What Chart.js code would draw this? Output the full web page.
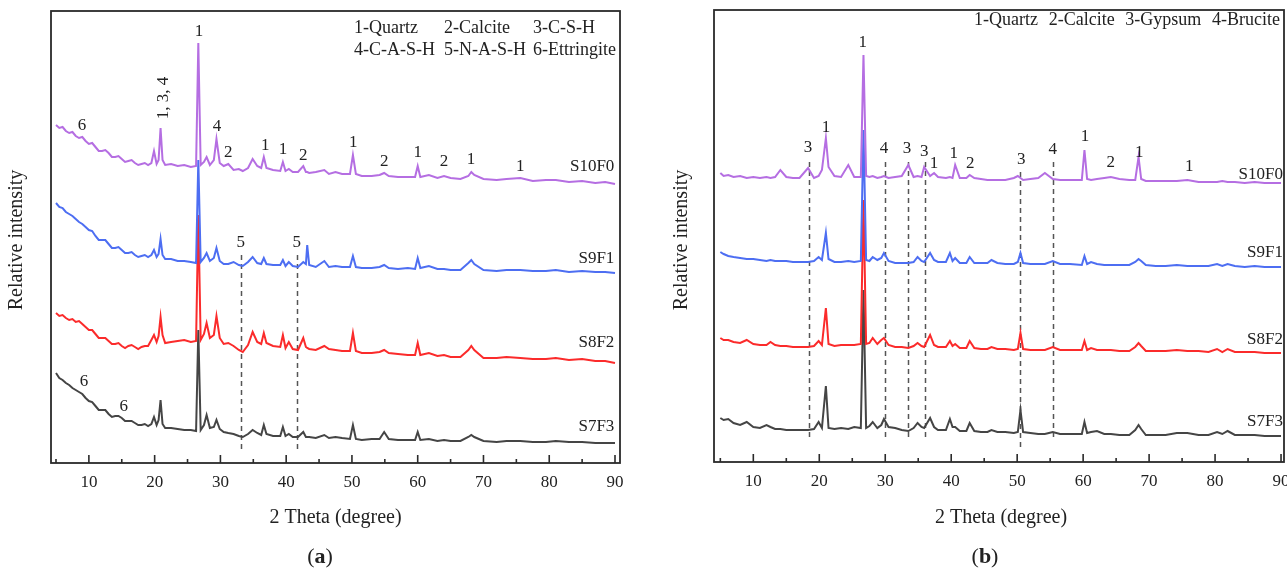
<!DOCTYPE html>
<html>
<head>
<meta charset="utf-8">
<script src="https://cdn.jsdelivr.net/npm/chart.js@4/dist/chart.umd.min.js"></script>
<style>
html,body{margin:0;padding:0;background:#fff;}
#wrap{position:relative;width:1287px;height:570px;overflow:hidden;background:#fff;}
canvas{position:absolute;top:0;}
</style>
</head>
<body>
<div id="wrap">
<canvas id="ca" width="660" height="570" style="left:0;width:660px;height:570px"></canvas>
<canvas id="cb" width="627" height="570" style="left:660px;width:627px;height:570px"></canvas>
</div>
<script>
// ---------- Data: [2θ (degree), relative intensity (a.u., offset stacked)] ----------
// Panel (a)
const S10F0_a = [[5,338],[5.5,335],[6,336],[6.5,332],[7,330],[7.5,331],[8,327],[8.5,325],[9,326],[9.5,322],[10,319],[10.5,320],[11,316],[11.5,312],[12,312],[12.5,313],[13,310],[13.5,306],[14,306],[14.5,307],[15,304],[15.5,301],[16,302],[16.5,303],[17,300],[17.5,298],[18,299],[18.5,300],[19,298],[19.5,300],[19.9,312],[20.3,299],[20.6,303],[20.9,335],[21.2,303],[21.6,298],[22.5,299],[23.5,297],[24.5,298],[25.5,296],[26.3,297],[26.64,420],[27.0,298],[27.5,301],[27.9,306],[28.4,298],[29.0,303],[29.4,324],[29.9,300],[30.5,297],[31.2,299],[32,293],[32.8,294],[33.4,292],[34.2,295],[34.9,304],[35.6,297],[36.2,295],[36.6,306],[37.0,295],[38.0,293],[39.1,292],[39.5,301],[39.9,292],[40.4,294],[41.0,291],[41.8,291],[42.6,297],[43.0,291],[43.2,291],[43.5,290],[44.5,291],[45.8,293],[46.5,289],[47.5,291],[48.5,289],[49.7,289],[50.15,308],[50.6,289],[51.5,287],[53,287],[54.2,288],[54.9,290],[55.6,287],[57,286],[58.5,286],[59.6,286],[60.0,297],[60.4,286],[61.7,288],[63,285],[64.0,287],[65,285],[66.5,284],[67.7,287],[68.15,291],[68.6,288],[70,284],[72,283],[73.5,284],[75.6,285],[77.5,282],[79.5,283],[81,283],[83,281],[85,282],[87,280],[88.5,281],[90,279]];
const S9F1_a = [[5,260],[5.5,256],[6,255],[6.5,251],[7,249],[7.5,247],[8,244],[8.5,241],[9,239],[9.5,236],[10,233],[10.5,232],[11,227],[11.5,223],[12,223],[12.5,223],[13,219],[13.5,215],[14,215],[14.5,216],[15,213],[15.5,210],[16,210],[16.5,211],[17,208],[17.5,206],[18,207],[18.5,208],[19,206],[19.5,208],[19.9,213],[20.3,206],[20.6,209],[20.9,224],[21.2,208],[21.6,204],[22.5,204],[23.5,202],[24.5,202],[25.5,201],[26.3,200],[26.64,303],[27.0,201],[27.5,205],[27.9,210],[28.4,202],[29.0,205],[29.4,215],[29.9,202],[30.5,199],[31.2,199],[32,201],[32.8,198],[33.4,197],[34.2,201],[34.9,206],[35.6,200],[36.2,199],[36.6,205],[37.0,199],[38.0,198],[39.1,198],[39.5,203],[39.9,197],[40.4,201],[41.0,197],[41.8,196],[42.6,201],[43.0,199],[43.2,218],[43.5,198],[44.5,196],[45.8,202],[46.5,196],[47.5,197],[48.5,196],[49.7,196],[50.15,207],[50.6,196],[51.5,195],[53,195],[54.2,196],[54.9,198],[55.6,195],[57,194],[58.5,195],[59.6,194],[60.0,205],[60.4,195],[61.7,197],[63,194],[64.0,194],[65,193],[66.5,193],[67.7,200],[68.15,203],[68.6,199],[70,193],[72,192],[73.5,193],[75.6,193],[77.5,192],[79.5,192],[81,193],[83,191],[85,192],[87,191],[88.5,191],[90,190]];
const S8F2_a = [[5,150],[5.5,147],[6,148],[6.5,145],[7,143],[7.5,144],[8,141],[8.5,142],[9,139],[9.5,136],[10,133],[10.5,133],[11,129],[11.5,125],[12,125],[12.5,125],[13,122],[13.5,119],[14,119],[14.5,120],[15,117],[15.5,115],[16,117],[16.5,118],[17,116],[17.5,114],[18,116],[18.5,117],[19,117],[19.5,123],[19.9,128],[20.3,121],[20.6,127],[20.9,146],[21.2,128],[21.6,120],[22.5,121],[23.5,122],[24.5,123],[25.5,121],[26.3,122],[26.64,248],[27.0,123],[27.5,129],[27.9,140],[28.4,125],[29.0,128],[29.4,147],[29.9,125],[30.5,119],[31.2,120],[32,117],[32.8,113],[33.4,111],[34.2,118],[34.9,131],[35.6,121],[36.2,119],[36.6,130],[37.0,120],[38.0,117],[39.1,116],[39.5,128],[39.9,115],[40.4,121],[41.0,114],[41.8,113],[42.6,125],[43.0,116],[43.2,115],[43.5,114],[44.5,113],[45.8,117],[46.5,114],[47.5,113],[48.5,112],[49.7,112],[50.15,130],[50.6,112],[51.5,110],[53,110],[54.2,111],[54.9,113],[55.6,110],[57,109],[58.5,108],[59.6,108],[60.0,120],[60.4,108],[61.7,110],[63,107],[64.0,108],[65,106],[66.5,106],[67.7,113],[68.15,117],[68.6,113],[70,105],[72,105],[73.5,106],[75.6,105],[77.5,104],[79.5,104],[81,105],[83,103],[85,104],[87,102],[88.5,102],[90,100]];
const S7F3_a = [[5,90],[5.5,85],[6,83],[6.5,80],[7,78],[7.5,75],[8,73],[8.5,71],[9,69],[9.5,65],[10,62],[10.5,61],[11,57],[11.5,53],[12,53],[12.5,53],[13,49],[13.5,46],[14,47],[14.5,47],[15,45],[15.5,42],[16,42],[16.5,42],[17,40],[17.5,38],[18,38],[18.5,39],[19,37],[19.5,39],[19.9,46],[20.3,38],[20.6,43],[20.9,63],[21.2,39],[21.6,35],[22.5,35],[23.5,34],[24.5,33],[25.5,33],[26.3,32],[26.64,133],[27.0,33],[27.5,38],[27.9,48],[28.4,35],[29.0,36],[29.4,43],[29.9,34],[30.5,31],[31.2,30],[32,29],[32.8,27],[33.4,26],[34.2,29],[34.9,33],[35.6,30],[36.2,28],[36.6,38],[37.0,29],[38.0,27],[39.1,27],[39.5,36],[39.9,27],[40.4,29],[41.0,26],[41.8,26],[42.6,31],[43.0,26],[43.2,26],[43.5,26],[44.5,25],[45.8,28],[46.5,25],[47.5,26],[48.5,25],[49.7,24],[50.15,38],[50.6,24],[51.5,23],[53,24],[54.2,24],[54.9,31],[55.6,24],[57,23],[58.5,23],[59.6,23],[60.0,31],[60.4,23],[61.7,24],[63,22],[64.0,23],[65,22],[66.5,22],[67.7,26],[68.15,28],[68.6,26],[70,22],[72,21],[73.5,22],[75.6,22],[77.5,21],[79.5,21],[81,22],[83,21],[85,21],[87,20],[88.5,20],[90,20]];

// Panel (b)
const S10F0_b = [[5,289],[5.5,286],[6.2,287],[7,285],[8,286],[9,284],[10,285],[11,284],[12,285],[12.6,284],[13.3,285],[14.1,292],[15,285],[16,284],[17,284],[18.3,294],[19.2,284],[19.9,286],[20.4,292],[21.0,324],[21.4,295],[22.3,286],[23.3,285],[24.4,297],[25.3,285],[26.3,285],[26.7,407],[27.1,286],[27.6,285],[28.1,286],[28.8,284],[29.4,285],[29.8,286],[30.5,284],[31.5,285],[32.5,286],[33.5,297],[34.3,285],[34.9,286],[35.5,285],[35.9,295],[36.8,286],[37.4,289],[38.0,285],[39.2,284],[39.8,285],[40.2,284],[40.6,297],[41.3,284],[42.3,284],[42.8,287],[43.5,284],[44.5,283],[45.5,282],[46.1,282],[47,282],[48.2,282],[49.5,284],[50.1,286],[50.5,284],[50.9,282],[52,283],[53.2,284],[54.2,289],[55.4,283],[56.5,282],[58,282],[59.8,282],[60.2,312],[60.6,283],[61.2,282],[62.1,283],[63.2,284],[64.2,285],[65.5,283],[67,282],[67.9,282],[68.4,305],[68.8,283],[69.5,281],[71,281],[72.5,281],[74.2,281],[75.8,282],[77.5,280],[79,280],[80.3,280],[81.1,281],[81.9,280],[83,280],[84.5,279],[86,280],[87.5,279],[89,279],[90,279]];
const S9F1_b = [[5,210],[5.5,208],[6.2,206],[7,205],[8,204],[9,203],[10,203],[11,202],[12,201],[12.6,202],[13.3,201],[14.1,201],[15,201],[16,200],[17,200],[18.3,200],[19.2,201],[19.9,205],[20.4,202],[21.0,229],[21.4,203],[22.3,200],[23.3,200],[24.4,201],[25.3,200],[26.3,201],[26.7,332],[27.1,202],[27.6,201],[28.1,205],[28.8,202],[29.4,204],[29.8,209],[30.5,201],[31.5,199],[32.5,199],[33.5,199],[34.3,200],[34.9,205],[35.5,201],[35.9,200],[36.8,209],[37.4,202],[38.0,200],[39.2,200],[39.8,209],[40.2,201],[40.6,204],[41.3,199],[42.3,199],[42.8,205],[43.5,199],[44.5,199],[45.5,199],[46.1,202],[47,199],[48.2,198],[49.5,198],[50.1,200],[50.5,209],[50.9,199],[52,198],[53.2,198],[54.2,198],[55.4,201],[56.5,198],[58,198],[59.8,197],[60.2,206],[60.6,198],[61.2,200],[62.1,198],[63.2,197],[64.2,197],[65.5,197],[67,197],[67.9,200],[68.4,203],[68.8,201],[69.5,197],[71,196],[72.5,196],[74.2,197],[75.8,196],[77.5,196],[79,196],[80.3,198],[81.1,196],[81.9,198],[83,196],[84.5,195],[86,196],[87.5,195],[89,195],[90,195]];
const S8F2_b = [[5,124],[5.5,122],[6.2,122],[7,120],[8,119],[9,122],[10,118],[11,117],[12,117],[12.6,120],[13.3,117],[14.1,116],[15,116],[16,115],[17,115],[18.3,115],[19.2,116],[19.9,121],[20.4,117],[21.0,154],[21.4,118],[22.3,116],[23.3,117],[24.4,117],[25.3,117],[26.3,118],[26.7,262],[27.1,118],[27.6,119],[28.1,124],[28.8,118],[29.4,122],[29.8,124],[30.5,117],[31.5,115],[32.5,115],[33.5,114],[34.3,116],[34.9,119],[35.5,116],[35.9,115],[36.8,127],[37.4,117],[38.0,115],[39.2,115],[39.8,121],[40.2,116],[40.6,118],[41.3,114],[42.3,114],[42.8,121],[43.5,114],[44.5,113],[45.5,113],[46.1,115],[47,113],[48.2,113],[49.5,112],[50.1,113],[50.5,129],[50.9,113],[52,112],[53.2,112],[54.2,112],[55.4,115],[56.5,112],[58,112],[59.8,112],[60.2,121],[60.6,112],[61.2,114],[62.1,112],[63.2,112],[64.2,112],[65.5,111],[67,111],[67.9,115],[68.4,119],[68.8,116],[69.5,111],[71,111],[72.5,111],[74.2,112],[75.8,111],[77.5,111],[79,110],[80.3,113],[81.1,110],[81.9,113],[83,110],[84.5,110],[86,110],[87.5,109],[89,109],[90,109]];
const S7F3_b = [[5,44],[5.5,42],[6.2,43],[7,39],[8,37],[9,40],[10,35],[11,34],[12,37],[12.6,35],[13.3,33],[14.1,33],[15,32],[16,32],[17,32],[18.3,32],[19.2,33],[19.9,40],[20.4,34],[21.0,76],[21.4,34],[22.3,33],[23.3,34],[24.4,33],[25.3,35],[26.3,34],[26.7,172],[27.1,34],[27.6,36],[28.1,40],[28.8,34],[29.4,37],[29.8,43],[30.5,35],[31.5,34],[32.5,32],[33.5,31],[34.3,34],[34.9,39],[35.5,35],[35.9,34],[36.8,44],[37.4,35],[38.0,32],[39.2,32],[39.8,43],[40.2,35],[40.6,35],[41.3,31],[42.3,31],[42.8,39],[43.5,31],[44.5,30],[45.5,30],[46.1,32],[47,30],[48.2,30],[49.5,29],[50.1,30],[50.5,52],[50.9,30],[52,29],[53.2,28],[54.2,28],[55.4,30],[56.5,28],[58,28],[59.8,28],[60.2,40],[60.6,29],[61.2,30],[62.1,31],[63.2,28],[64.2,28],[65.5,27],[67,27],[67.9,32],[68.4,37],[68.8,33],[69.5,27],[71,27],[72.5,27],[74.2,29],[75.8,29],[77.5,27],[79,27],[80.3,30],[81.1,28],[81.9,31],[83,27],[84.5,27],[86,27],[87.5,26],[89,26],[90,26]];

// Tick labels (2θ)
const tickLabels = [10,20,30,40,50,60,70,80,90];
const sampleNames = ['S10F0','S9F1','S8F2','S7F3'];
const legendA = [['1-Quartz','2-Calcite','3-C-S-H'],['4-C-A-S-H','5-N-A-S-H','6-Ettringite']];
const legendB = ['1-Quartz','2-Calcite','3-Gypsum','4-Brucite'];

// Phase marks: [label, 2θ, intensity]
const marksA = [['6',8.95,337],['1',26.75,431],['4',29.5,336],['2',31.2,310],['1',36.8,317],['1',39.5,313],['2',42.6,307],['1',50.2,320],['2',54.9,301],['1',60.0,310],['2',64.0,301],['1',68.1,303],['1',75.6,296],['5',33.1,220],['5',41.6,220],['6',9.26,81],['6',15.3,56]];
const rotMarksA = [['1, 3, 4',21.4,365]];
const marksB = [['3',18.3,314],['1',21.0,334],['1',26.6,419],['4',29.8,313],['3',33.3,313],['3',35.9,310],['1',37.4,298],['1',40.4,308],['2',42.9,298],['3',50.6,302],['4',55.4,312],['1',60.3,325],['2',64.2,299],['1',68.5,309],['1',76.1,295]];
// Sample name label heights (intensity)
const nameYA = [296,204,120,36];
const nameYB = [287,209,122,40];
// Dashed guide lines: [2θ, top intensity, bottom intensity]
const guidesA = [[33.2,208,10],[41.6,208,10]];
const guidesB = [[18.4,300,22],[29.9,300,22],[33.5,300,22],[36.0,300,22],[50.5,290,14],[55.4,300,22]];

const COLORS = ['#b56ee2','#4d6ef2','#fb2b2b','#454545'];
const SERIF = "'Liberation Serif','Times New Roman',serif";

function makeChart(id, series, opt){
  const ctx = document.getElementById(id).getContext('2d');
  const decor = {
    id:'decor'+id,
    beforeDatasetsDraw(chart){
      const c = chart.ctx, x = chart.scales.x, y = chart.scales.y;
      c.save();
      c.strokeStyle = '#555'; c.lineWidth = 1.5; c.setLineDash([5,4]);
      opt.guides.forEach(g=>{
        const px = Math.round(x.getPixelForValue(g[0]))+0.5;
        c.beginPath(); c.moveTo(px, y.getPixelForValue(g[1])); c.lineTo(px, y.getPixelForValue(g[2])); c.stroke();
      });
      c.restore();
    },
    afterDraw(chart){
      const c = chart.ctx, x = chart.scales.x, y = chart.scales.y, a = chart.chartArea;
      c.save();
      // frame
      c.strokeStyle = '#2a2a2a'; c.lineWidth = 1.8; c.setLineDash([]);
      c.strokeRect(a.left, a.top, a.right-a.left, a.bottom-a.top);
      // inward ticks
      c.lineWidth = 1.6;
      for (let v=5; v<=90; v+=5){
        const px = x.getPixelForValue(v);
        const len = (v%10===0)?8:4;
        c.beginPath(); c.moveTo(px, a.bottom); c.lineTo(px, a.bottom-len); c.stroke();
      }
      c.fillStyle = '#222';
      c.textAlign = 'center'; c.textBaseline = 'middle';
      c.font = '17px '+SERIF;
      opt.marks.forEach(m=>{ c.fillText(m[0], x.getPixelForValue(m[1]), y.getPixelForValue(m[2])); });
      (opt.rotMarks||[]).forEach(m=>{
        c.save(); c.translate(x.getPixelForValue(m[1]), y.getPixelForValue(m[2])); c.rotate(-Math.PI/2);
        c.fillText(m[0],0,0); c.restore();
      });
      c.textAlign = 'right';
      sampleNames.forEach((n,i)=>{ c.fillText(n, x.getPixelForValue(opt.nameX), y.getPixelForValue(opt.nameY[i])); });
      // legend
      c.textAlign = 'left'; c.font = '18px '+SERIF;
      opt.drawLegend(c, a);
      // axis titles
      c.textAlign = 'center'; c.font = '20px '+SERIF;
      c.fillText('2 Theta (degree)', (a.left+a.right)/2 + opt.xTitleDx, 518);
      c.save(); c.translate(opt.yTitleX, 240); c.rotate(-Math.PI/2);
      c.fillText('Relative intensity', 0, 0); c.restore();
      // panel letter
      const cx = opt.panelX, cy = 557;
      c.font = '22px '+SERIF;
      const wp = c.measureText('(').width;
      c.font = 'bold 22px '+SERIF;
      const wl = c.measureText(opt.letter).width;
      const tot = wp*2+wl;
      c.textAlign='left';
      c.font = '22px '+SERIF; c.fillText('(', cx-tot/2, cy);
      c.font = 'bold 22px '+SERIF; c.fillText(opt.letter, cx-tot/2+wp, cy);
      c.font = '22px '+SERIF; c.fillText(')', cx-tot/2+wp+wl, cy);
      c.restore();
    }
  };
  return new Chart(ctx, {
    type:'line',
    data:{ datasets: series.map((s,i)=>({ label:sampleNames[i], data:s.map(p=>({x:p[0],y:p[1]})), borderColor:COLORS[i], backgroundColor:COLORS[i], borderWidth:2, pointRadius:0, tension:0, fill:false })) },
    options:{
      responsive:false, animation:false, devicePixelRatio:1,
      layout:{ padding:{ left:opt.padL, right:opt.padR, top:opt.padT, bottom:opt.padB } },
      plugins:{ legend:{display:false}, tooltip:{enabled:false} },
      scales:{
        x:{ type:'linear', min:opt.xmin, max:opt.xmax, border:{display:false},
            grid:{display:false, drawTicks:false},
            afterBuildTicks:(s)=>{ s.ticks = tickLabels.map(v=>({value:v})); },
            afterFit:(s)=>{ s.height = 40; s.paddingLeft = 0; s.paddingRight = 0; },
            ticks:{ padding:9, color:'#222', font:{family:SERIF, size:17}, maxRotation:0, autoSkip:false } },
        y:{ display:false, min:0, max:452 }
      }
    },
    plugins:[decor]
  });
}

makeChart('ca', [S10F0_a,S9F1_a,S8F2_a,S7F3_a], {
  padL:51, padR:40, padT:11, padB:67, xmin:4.24, xmax:90.76,
  guides:guidesA, marks:marksA, rotMarks:rotMarksA, nameX:89.9, nameY:nameYA,
  xTitleDx:0, yTitleX:17, panelX:320, letter:'a',
  drawLegend:(c,a)=>{
    const cols=[303,393,482];
    legendA.forEach((row,r)=>row.forEach((t,k)=>c.fillText(t, a.left+cols[k], a.top+17+r*22)));
  }
});
makeChart('cb', [S10F0_b,S9F1_b,S8F2_b,S7F3_b], {
  padL:54, padR:3, padT:10, padB:68, xmin:4.04, xmax:90.45,
  guides:guidesB, marks:marksB, rotMarks:[], nameX:90.3, nameY:nameYB,
  xTitleDx:2, yTitleX:22, panelX:325, letter:'b',
  drawLegend:(c,a)=>{
    const start = a.left+260, end = a.left+566;
    const ws = legendB.map(t=>c.measureText(t).width);
    const gap = (end-start-ws.reduce((p,q)=>p+q,0))/(legendB.length-1);
    let px = start;
    legendB.forEach((t,k)=>{ c.fillText(t, px, a.top+10); px += ws[k]+gap; });
  }
});
</script>
</body>
</html>
